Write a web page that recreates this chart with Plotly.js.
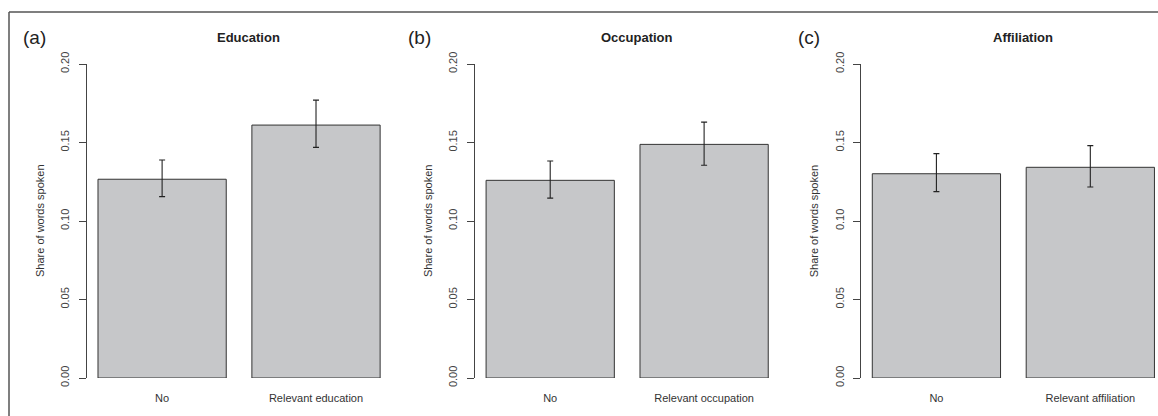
<!DOCTYPE html>
<html>
<head>
<meta charset="utf-8">
<script src="https://cdn.plot.ly/plotly-3.0.1.min.js"></script>
<style>
  html, body { margin: 0; padding: 0; background: #fff; }
  #chart { width: 1158px; height: 416px; }
</style>
</head>
<body>
<div id="chart"></div>
<script>
// ---- data ----
const panelTitles = ['Education', 'Occupation', 'Affiliation'];
const panelLetters = ['(a)', '(b)', '(c)'];
const yAxisLabel = 'Share of words spoken';

const catEducation = ['No', 'Relevant education'];
const catOccupation = ['No', 'Relevant occupation'];
const catAffiliation = ['No', 'Relevant affiliation'];

const meanEducation = [0.1266, 0.1611];
const lowEducation = [0.1155, 0.1469];
const highEducation = [0.1389, 0.1770];

const meanOccupation = [0.1259, 0.1488];
const lowOccupation = [0.1146, 0.1355];
const highOccupation = [0.1382, 0.1630];

const meanAffiliation = [0.1301, 0.1342];
const lowAffiliation = [0.1187, 0.1217];
const highAffiliation = [0.1429, 0.1480];

const yTickVals = [0, 0.05, 0.10, 0.15, 0.20];
const yTickText = ['0.00', '0.05', '0.10', '0.15', '0.20'];

// ---- build ----
const W = 1158, H = 416;
const FONT = 'Liberation Sans, Arial, sans-serif';
const px2x = p => p / W;
const px2y = p => (H - p) / H;

const cats = [catEducation, catOccupation, catAffiliation];
const means = [meanEducation, meanOccupation, meanAffiliation];
const lows = [lowEducation, lowOccupation, lowAffiliation];
const highs = [highEducation, highOccupation, highAffiliation];

// pixel geometry of each panel (axis line left, plot right)
const panelLeft = [86.7, 474.8, 861];
const panelRight = [391.2, 778.9, 1158];
const pxPerCat = 153.9;
const yDomain = [px2y(378), px2y(64)];

const traces = [];
const layout = {
  width: W, height: H,
  margin: {l: 0, r: 0, t: 0, b: 0},
  paper_bgcolor: '#ffffff',
  plot_bgcolor: 'rgba(0,0,0,0)',
  showlegend: false,
  bargap: 1 - 1 / 1.2,
  font: {family: FONT, color: '#333', size: 11},
  annotations: [],
  shapes: [
    {type: 'line', xref: 'paper', yref: 'paper', x0: px2x(9), x1: 1, y0: px2y(12), y1: px2y(12),
     line: {color: '#555', width: 1.5}},
    {type: 'line', xref: 'paper', yref: 'paper', x0: px2x(9), x1: px2x(9), y0: px2y(12), y1: 0,
     line: {color: '#555', width: 1.5}}
  ]
};

for (let i = 0; i < 3; i++) {
  const xs = i === 0 ? 'x' : 'x' + (i + 1);
  const ys = i === 0 ? 'y' : 'y' + (i + 1);
  const xk = i === 0 ? 'xaxis' : 'xaxis' + (i + 1);
  const yk = i === 0 ? 'yaxis' : 'yaxis' + (i + 1);

  traces.push({
    type: 'bar',
    x: cats[i],
    y: means[i],
    xaxis: xs, yaxis: ys,
    marker: {color: '#c6c7c9', line: {color: '#333', width: 1}},
    error_y: {
      type: 'data', symmetric: false,
      array: highs[i].map((h, k) => h - means[i][k]),
      arrayminus: lows[i].map((l, k) => means[i][k] - l),
      color: '#222', thickness: 1.1, width: 3
    },
    hoverinfo: 'skip'
  });

  const r0 = -0.49;
  const r1 = r0 + (panelRight[i] - panelLeft[i]) / pxPerCat;
  layout[xk] = {
    domain: [px2x(panelLeft[i]), px2x(panelRight[i])],
    range: [r0, r1],
    type: 'category',
    anchor: ys,
    showline: false, showgrid: false, zeroline: false,
    ticks: '',
    ticklabelstandoff: 12,
    tickfont: {family: FONT, size: 11, color: '#333'},
    fixedrange: true
  };
  layout[yk] = {
    domain: yDomain,
    range: [0, 0.2],
    anchor: xs,
    showline: true, linecolor: '#444', linewidth: 1,
    ticks: 'outside', ticklen: 7, tickcolor: '#444', tickwidth: 1,
    tickvals: yTickVals, ticktext: yTickText,
    tickangle: -90,
    ticklabelstandoff: 5,
    showgrid: false, zeroline: false,
    tickfont: {family: FONT, size: 11, color: '#444'},
    fixedrange: true
  };

  // axis title
  layout.annotations.push({
    xref: 'paper', yref: 'paper',
    x: px2x(panelLeft[i] - 46.7), y: px2y(221),
    text: yAxisLabel, textangle: -90, showarrow: false,
    xanchor: 'center', yanchor: 'middle',
    font: {family: FONT, size: 11, color: '#333'}
  });
  // panel title
  layout.annotations.push({
    xref: 'paper', yref: 'paper',
    x: px2x(panelLeft[i] + 162.3), y: px2y(37),
    text: '<b>' + panelTitles[i] + '</b>', showarrow: false,
    xanchor: 'center', yanchor: 'middle',
    font: {family: FONT, size: 13, color: '#222'}
  });
  // panel letter
  layout.annotations.push({
    xref: 'paper', yref: 'paper',
    x: px2x([21, 406, 796][i]), y: px2y(37),
    text: panelLetters[i], showarrow: false,
    xanchor: 'left', yanchor: 'middle',
    font: {family: FONT, size: 19, color: '#222'}
  });
}

Plotly.newPlot('chart', traces, layout, {displayModeBar: false, staticPlot: true});
</script>
</body>
</html>
